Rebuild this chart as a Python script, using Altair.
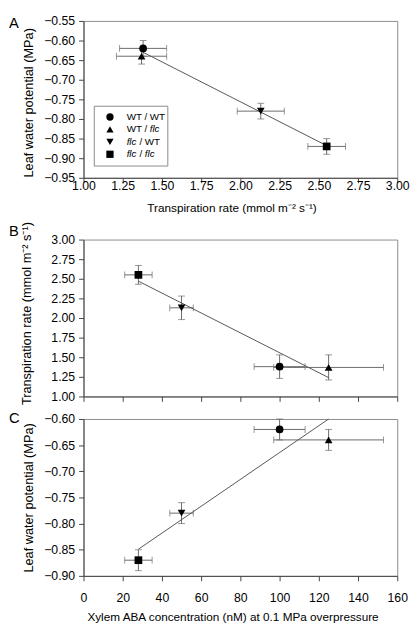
import altair as alt
import pandas as pd

# ---------------- data ----------------
genotypes = ["WT / WT", "WT / flc", "flc / WT", "flc / flc"]
shapes = ["circle", "triangle-up", "triangle-down", "square"]

transp = [1.38, 1.37, 2.13, 2.55]          # mmol m-2 s-1
transp_err = [0.15, 0.16, 0.15, 0.12]
lwp = [-0.62, -0.64, -0.78, -0.87]          # MPa
lwp_err = [0.02, 0.02, 0.02, 0.02]
aba = [100, 125, 50, 28]                    # nM
aba_err = [13, 28, 6, 7]

lineA_x = [1.37, 2.55]
lineA_y = [-0.628, -0.868]
lineB_x = [28, 125]
lineB_y = [2.47, 1.24]
lineC_x = [28, 125]
lineC_y = [-0.849, -0.60]

ticks_transp = [1.0, 1.25, 1.5, 1.75, 2.0, 2.25, 2.5, 2.75, 3.0]
ticks_lwp_A = [-0.95, -0.90, -0.85, -0.80, -0.75, -0.70, -0.65, -0.60, -0.55]
ticks_lwp_C = [-0.90, -0.85, -0.80, -0.75, -0.70, -0.65, -0.60]
ticks_aba = [0, 20, 40, 60, 80, 100, 120, 140, 160]

title_transp = "Transpiration rate (mmol m\u207b\u00b2 s\u207b\u00b9)"
title_lwp = "Leaf water potential (MPa)"
title_aba = "Xylem ABA concentration (nM) at 0.1 MPa overpressure"

# legend text pieces (row, text, offset, italic)
leg_row = [0, 1, 1, 2, 2, 3, 3, 3]
leg_text = ["WT / WT", "WT / ", "flc", "flc", "/ WT", "flc", "/", "flc"]
leg_dx = [0, 0, 23.5, 0, 13, 0, 13, 18.5]
leg_italic = [False, False, True, True, False, True, False, True]

W = 320
H = 160
FONT = "Liberation Sans"
ERR = "#6a6a6a"
LINE = "#555555"

shape_scale = alt.Scale(domain=genotypes, range=shapes)


def make_df(xs, xe, ys, ye):
    return pd.DataFrame({
        "genotype": genotypes,
        "x": xs, "y": ys,
        "xlo": [a - b for a, b in zip(xs, xe)],
        "xhi": [a + b for a, b in zip(xs, xe)],
        "ylo": [a - b for a, b in zip(ys, ye)],
        "yhi": [a + b for a, b in zip(ys, ye)],
    })


def panel(df, lx, ly, xdom, ydom, xaxis, yaxis, letter, letter_y):
    xs = alt.Scale(domain=xdom, nice=False, zero=False)
    ys = alt.Scale(domain=ydom, nice=False, zero=False)

    def X(f):
        return alt.X(f + ":Q", scale=xs, axis=xaxis)

    def Y(f):
        return alt.Y(f + ":Q", scale=ys, axis=yaxis)

    base = alt.Chart(df)
    xbar = base.mark_rule(color=ERR, strokeWidth=1).encode(x=X("xlo"), x2="xhi", y=Y("y"))
    ybar = base.mark_rule(color=ERR, strokeWidth=1).encode(x=X("x"), y=Y("ylo"), y2="yhi")
    cx1 = base.mark_tick(orient="vertical", size=7, thickness=1, color=ERR).encode(x=X("xlo"), y=Y("y"))
    cx2 = base.mark_tick(orient="vertical", size=7, thickness=1, color=ERR).encode(x=X("xhi"), y=Y("y"))
    cy1 = base.mark_tick(orient="horizontal", size=7, thickness=1, color=ERR).encode(x=X("x"), y=Y("ylo"))
    cy2 = base.mark_tick(orient="horizontal", size=7, thickness=1, color=ERR).encode(x=X("x"), y=Y("yhi"))
    line = alt.Chart(pd.DataFrame({"x": lx, "y": ly})).mark_line(
        color=LINE, strokeWidth=1).encode(x=X("x"), y=Y("y"))
    pts = base.mark_point(filled=True, color="black", opacity=1, size=62).encode(
        x=X("x"), y=Y("y"),
        shape=alt.Shape("genotype:N", scale=shape_scale, legend=None))
    lab = alt.Chart(pd.DataFrame({"t": [letter]})).mark_text(
        font=FONT, fontSize=15, align="left", baseline="middle", color="black").encode(
        x=alt.value(-76), y=alt.value(letter_y), text="t:N")
    return alt.layer(xbar, ybar, cx1, cx2, cy1, cy2, line, pts, lab).properties(width=W, height=H)


dfA = make_df(transp, transp_err, lwp, lwp_err)
dfB = make_df(aba, aba_err, transp, transp_err)
dfC = make_df(aba, aba_err, lwp, lwp_err)

axA_x = alt.Axis(values=ticks_transp, format=".2f", title=title_transp, labelFlush=False,
                 labelPadding=-3, titlePadding=11, titleFontSize=12,
                 titleX=W / 2 - 9, titleAlign="center")
axA_y = alt.Axis(values=ticks_lwp_A, format=".2f", title=title_lwp, labelFlush=False,
                 labelPadding=4, titlePadding=8, titleY=H / 2 + 3, titleAlign="center")
axB_x = alt.Axis(values=ticks_aba, labels=False, title=None, labelFlush=False)
axB_y = alt.Axis(values=ticks_transp, format=".2f", title=title_transp, labelFlush=False,
                 labelPadding=4, titlePadding=18, titleY=H / 2 - 5, titleAlign="center")
axC_x = alt.Axis(values=ticks_aba, format="d", title=title_aba, labelFlush=False,
                 labelPadding=11, titlePadding=8, titleFontSize=12,
                 titleX=W / 2 - 8, titleAlign="center")
axC_y = alt.Axis(values=ticks_lwp_C, format=".2f", title=title_lwp, labelFlush=False,
                 labelPadding=4, titlePadding=8)

mainA = panel(dfA, lineA_x, lineA_y, [1.0, 3.0], [-0.95, -0.55], axA_x, axA_y, "A", 2)
chartB = panel(dfB, lineB_x, lineB_y, [0, 160], [1.0, 3.0], axB_x, axB_y, "B", -9)
chartC = panel(dfC, lineC_x, lineC_y, [0, 160], [-0.90, -0.60], axC_x, axC_y, "C", -1)

# ---- custom legend for panel A (mixed italic text) ----
legend_rows = pd.DataFrame({"row": list(range(len(genotypes))), "genotype": genotypes})
legend_txt = pd.DataFrame({"row": leg_row, "text": leg_text, "dx": leg_dx, "italic": leg_italic})
ry = alt.Scale(domain=[0, 3], range=[98, 136])
rx = alt.Scale(domain=[0, 100], range=[44, 144])

box = alt.Chart(pd.DataFrame({"a": [0]})).mark_rect(
    fill="white", fillOpacity=0, stroke="#8a8a8a", strokeWidth=1).encode(
    x=alt.value(11), x2=alt.value(86), y=alt.value(87), y2=alt.value(148))
sym = alt.Chart(legend_rows).mark_point(filled=True, color="black", opacity=1, size=55).encode(
    x=alt.value(27),
    y=alt.Y("row:Q", scale=ry, axis=None),
    shape=alt.Shape("genotype:N", scale=shape_scale, legend=None))
txt_reg = alt.Chart(legend_txt).transform_filter("!datum.italic").mark_text(
    font=FONT, fontSize=10, align="left", baseline="middle", color="black").encode(
    x=alt.X("dx:Q", scale=rx, axis=None), y=alt.Y("row:Q", scale=ry, axis=None), text="text:N")
txt_it = alt.Chart(legend_txt).transform_filter("datum.italic").mark_text(
    font=FONT, fontSize=10, fontStyle="italic", align="left", baseline="middle", color="black").encode(
    x=alt.X("dx:Q", scale=rx, axis=None), y=alt.Y("row:Q", scale=ry, axis=None), text="text:N")
legendA = alt.layer(box, sym, txt_reg, txt_it)

chartA = alt.layer(mainA, legendA).resolve_scale(x="independent", y="independent").properties(
    width=W, height=H)

lower = alt.vconcat(chartB, chartC, spacing=23, bounds="flush")
chart = alt.vconcat(chartA, lower, spacing=63, bounds="flush").properties(
    padding=0, background="white"
).configure_view(
    stroke="#8c8c8c", strokeWidth=1
).configure_axis(
    grid=False, domainColor="#444444", tickColor="#444444", tickSize=5,
    labelFont=FONT, titleFont=FONT, labelFontSize=12.5, titleFontSize=13,
    labelColor="black", titleColor="black", titleFontWeight="normal"
)

chart.save("out.html", embed_options={"renderer": "svg", "actions": False})
